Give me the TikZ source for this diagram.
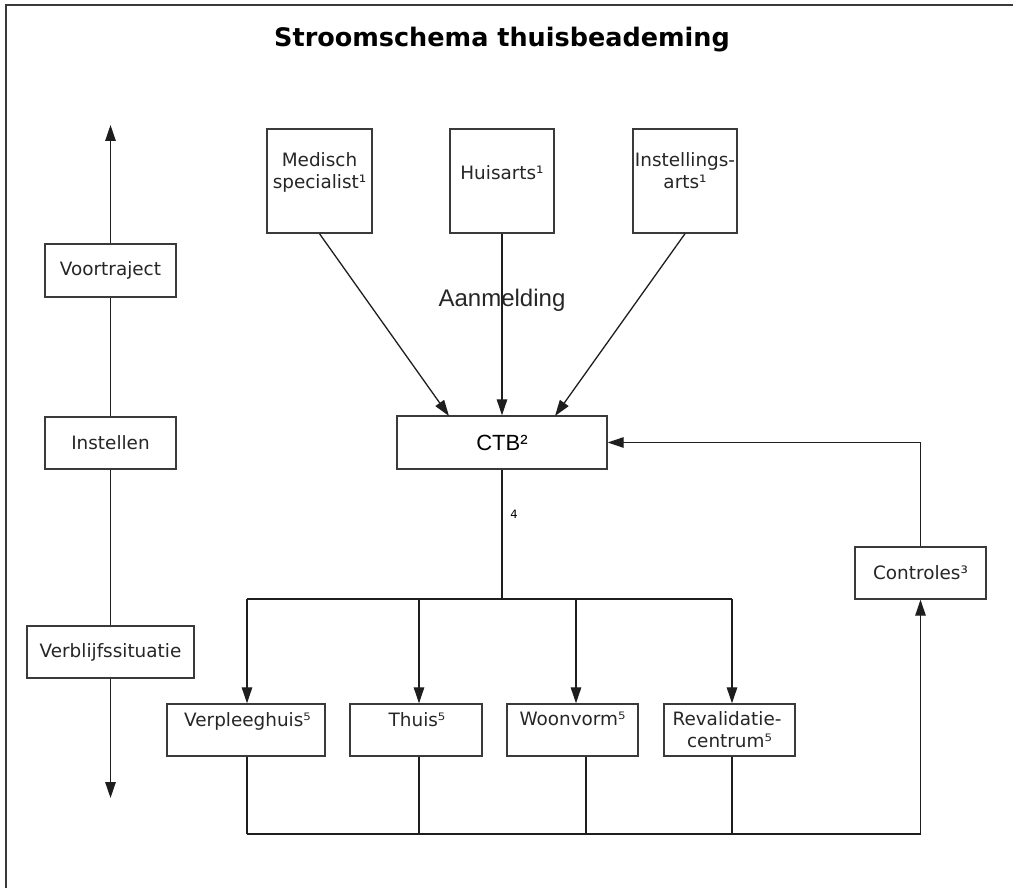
\documentclass[tikz,border=0pt]{standalone}
\usepackage{fontspec}
\setmainfont{DejaVu Sans}
\newfontfamily\arialf{Liberation Sans}
\usetikzlibrary{arrows.meta}
\definecolor{linecol}{HTML}{1E1E1E}
\definecolor{boxcol}{HTML}{3A3A3A}
\begin{document}
\begin{tikzpicture}[x=1pt,y=-1pt,
  boxst/.style={draw=boxcol, line width=1.4pt, inner sep=0pt, fill=white},
  txt/.style={inner sep=0pt, font=\fontsize{18.4}{22}\selectfont, text=black!85},
  ln/.style={draw=linecol, line width=1.3pt},
  arr/.style={ln, -{Triangle[length=16pt,width=10.5pt]}}]
\useasboundingbox (0,0) rectangle (1013,888);
% frame
\draw[boxcol, line width=1.5pt] (6,888) -- (6,5) -- (1013,5);
% title
\node[inner sep=0pt, anchor=base, font=\fontsize{25.5}{30}\selectfont\bfseries] (title) at (502,47) {Stroomschema thuisbeademing};
% left column
\node[boxst, minimum width=131pt, minimum height=53pt] (vt) at (110.5,270.5) {};
\node[txt] (vtT) at (vt.center) {Voortraject};
\node[boxst, minimum width=131pt, minimum height=52pt] (inst) at (110.5,443) {};
\node[txt] (instT) at (inst.center) {Instellen};
\node[boxst, minimum width=167pt, minimum height=52pt] (verb) at (110.5,652) {};
\node[txt] (verbT) at (verb.center) {Verblijfssituatie};
\coordinate (upEnd) at (110.5,125);
\coordinate (downEnd) at (110.5,798);
\draw[arr] (vt.north) -- (upEnd);
\draw[ln] (vt.south) -- (inst.north);
\draw[ln] (inst.south) -- (verb.north);
\draw[arr] (verb.south) -- (downEnd);
% top boxes
\node[boxst, minimum width=105pt, minimum height=104pt] (med) at (319.5,181) {};
\node[txt, anchor=base] (medT1) at (319.5,167) {Medisch};
\node[txt, anchor=base] (medT2) at (319.5,189) {specialist¹};
\node[boxst, minimum width=104pt, minimum height=104pt] (huis) at (502,181) {};
\node[txt, anchor=base] (huisT) at (502,180) {Huisarts¹};
\node[boxst, minimum width=104pt, minimum height=104pt] (insa) at (685,181) {};
\node[txt, anchor=base] (insaT1) at (685,167) {Instellings-};
\node[txt, anchor=base] (insaT2) at (685,189) {arts¹};
% CTB
\node[boxst, minimum width=210pt, minimum height=53pt] (ctb) at (502,442.5) {};
\node[inner sep=0pt, anchor=base, font=\arialf\fontsize{22}{26}\selectfont] (ctbT) at (502,450) {CTB²};
\node[inner sep=0pt, anchor=base, font=\arialf\fontsize{24}{28}\selectfont, text=black!85] (aan) at (502,306) {Aanmelding};
\coordinate (ctbA) at (449,416);
\coordinate (ctbC) at (555,416);
\draw[arr] (med.south) -- (ctbA);
\draw[arr] (huis.south) -- (ctb.north);
\draw[arr] (insa.south) -- (ctbC);
% split
\coordinate (split) at (502,599);
\draw[ln] (ctb.south) -- (split);
\node[inner sep=0pt, font=\fontsize{11.5}{13}\selectfont] (four) at (514,514) {4};
\coordinate (b1) at (247,599);
\coordinate (b2) at (419,599);
\coordinate (b3) at (576,599);
\coordinate (b4) at (732,599);
\draw[ln] (b1) -- (b4);
% bottom boxes
\node[boxst, minimum width=158pt, minimum height=52pt] (verp) at (246,730) {};
\node[txt, anchor=base] (verpT) at (247.5,726) {Verpleeghuis⁵};
\node[boxst, minimum width=132pt, minimum height=52pt] (thuis) at (416,730) {};
\node[txt, anchor=base] (thuisT) at (417,726) {Thuis⁵};
\node[boxst, minimum width=131pt, minimum height=52pt] (woon) at (572.5,730) {};
\node[txt, anchor=base] (woonT) at (572.5,725) {Woonvorm⁵};
\node[boxst, minimum width=131pt, minimum height=52pt] (reval) at (729.5,730) {};
\node[txt, anchor=base] (revalT1) at (727,725) {Revalidatie-};
\node[txt, anchor=base] (revalT2) at (729.5,747) {centrum⁵};
\draw[arr] (b1) -- (b1 |- verp.north);
\draw[arr] (b2) -- (b2 |- thuis.north);
\draw[arr] (b3) -- (b3 |- woon.north);
\draw[arr] (b4) -- (b4 |- reval.north);
% return
\coordinate (c1) at (247,834);
\coordinate (c2) at (419,834);
\coordinate (c3) at (586,834);
\coordinate (c4) at (732,834);
\coordinate (cR) at (920.5,834);
\draw[ln] (c1 |- verp.south) -- (c1);
\draw[ln] (c2 |- thuis.south) -- (c2);
\draw[ln] (c3 |- woon.south) -- (c3);
\draw[ln] (c4 |- reval.south) -- (c4);
\draw[ln] (c1) -- (cR);
\node[boxst, minimum width=131pt, minimum height=52pt] (ctrl) at (920.5,573) {};
\node[txt] (ctrlT) at (ctrl.center) {Controles³};
\draw[arr] (cR) -- (ctrl.south);
\draw[arr] (ctrl.north) |- (ctb.east);
\end{tikzpicture}
\end{document}
